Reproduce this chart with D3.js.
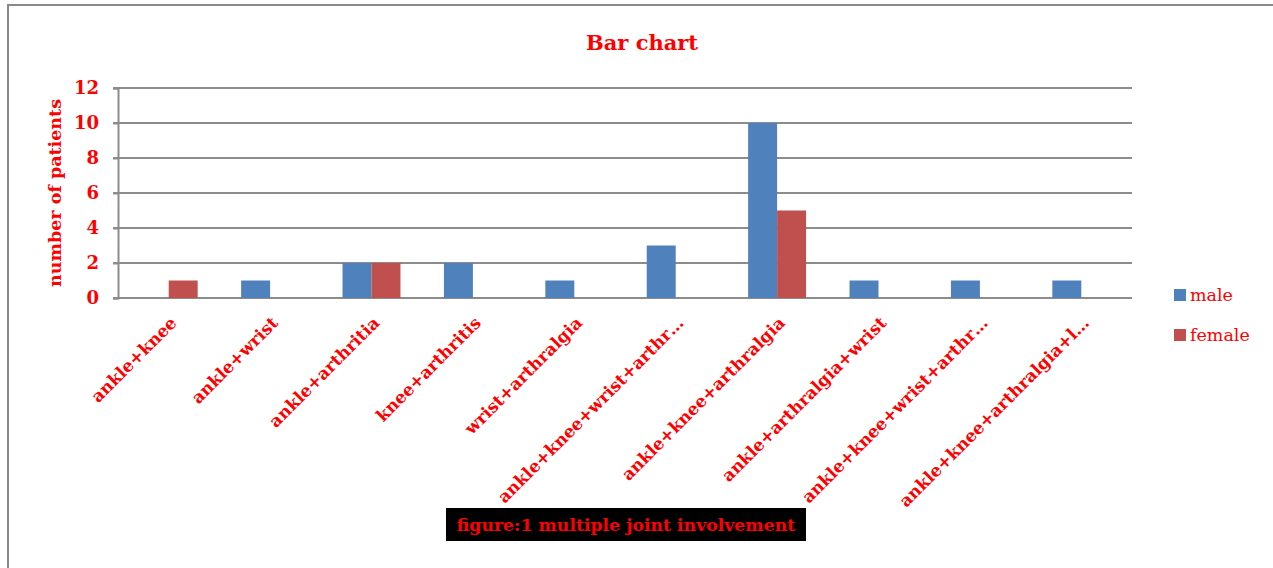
<!DOCTYPE html>
<html>
<head>
<meta charset="utf-8">
<script src="https://cdn.jsdelivr.net/npm/d3@7"></script>
<style>
  body { margin: 0; background: #fff; }
  text { font-family: "DejaVu Serif", serif; }
</style>
</head>
<body>
<div id="chart"></div>
<script>
var categories = ["ankle+knee", "ankle+wrist", "ankle+arthritia", "knee+arthritis", "wrist+arthralgia",
    "ankle+knee+wrist+arthr\u2026", "ankle+knee+arthralgia", "ankle+arthralgia+wrist",
    "ankle+knee+wrist+arthr\u2026", "ankle+knee+arthralgia+l\u2026"];
var male = [0, 1, 2, 2, 1, 3, 10, 1, 1, 1];
var female = [1, 0, 2, 0, 0, 0, 5, 0, 0, 0];
var seriesNames = ["male", "female"];
var yTicks = [0, 2, 4, 6, 8, 10, 12];

var width = 1273;
var height = 568;
var red = "#ff0000";
var colour = d3.scaleOrdinal().domain(seriesNames).range(["#4f81bd", "#c0504d"]);

var plot = { left: 118, right: 1132, top: 88, bottom: 298 };

var svg = d3.select("#chart").append("svg")
    .attr("width", width)
    .attr("height", height);

// outer frame of the chart area
svg.append("rect")
    .attr("x", 8).attr("y", 5)
    .attr("width", width + 10).attr("height", height + 10)
    .attr("fill", "none")
    .attr("stroke", "#8a8a8a")
    .attr("stroke-width", 2);

var x = d3.scaleBand()
    .domain(d3.range(categories.length))
    .range([plot.left, plot.right]);

var xs = d3.scaleBand()
    .domain(seriesNames)
    .range([0, x.bandwidth()])
    .paddingOuter(0.75);

var y = d3.scaleLinear()
    .domain([0, 12])
    .range([plot.bottom, plot.top]);

// gridlines
svg.append("g")
    .selectAll("line")
    .data(yTicks)
    .enter().append("line")
    .attr("x1", plot.left - 5)
    .attr("x2", plot.right)
    .attr("y1", function(d) { return y(d); })
    .attr("y2", function(d) { return y(d); })
    .attr("stroke", "#8c8c8c")
    .attr("stroke-width", 2);

// y axis
var yAxis = svg.append("g")
    .attr("transform", "translate(" + plot.left + ",0)")
    .call(d3.axisLeft(y).tickValues(yTicks).tickSize(5).tickPadding(14));
yAxis.select(".domain").attr("stroke", "#8c8c8c").attr("stroke-width", 2);
yAxis.selectAll(".tick line").attr("stroke", "#8c8c8c").attr("stroke-width", 2);
yAxis.selectAll(".tick text")
    .attr("fill", red)
    .style("font-size", "18px")
    .style("font-weight", "bold")
    .style("font-family", "DejaVu Serif");

// bars
var rows = categories.map(function(c, i) {
    return { i: i, values: [{ key: "male", value: male[i] }, { key: "female", value: female[i] }] };
});

var groups = svg.append("g").selectAll("g")
    .data(rows)
    .enter().append("g")
    .attr("transform", function(d) { return "translate(" + x(d.i) + ",0)"; });

groups.selectAll("rect")
    .data(function(d) { return d.values.filter(function(v) { return v.value > 0; }); })
    .enter().append("rect")
    .attr("x", function(d) { return xs(d.key); })
    .attr("width", xs.bandwidth())
    .attr("y", function(d) { return y(d.value); })
    .attr("height", function(d) { return y(0) - y(d.value); })
    .attr("fill", function(d) { return colour(d.key); });

// category labels
svg.append("g").selectAll("text")
    .data(categories)
    .enter().append("text")
    .attr("transform", function(d, i) {
        return "translate(" + (x(i) + x.bandwidth() / 2 + 9) + ",324) rotate(-45)";
    })
    .attr("text-anchor", "end")
    .attr("fill", red)
    .style("font-size", "17px")
    .style("font-weight", "bold")
    .text(function(d) { return d; });

// y axis title
svg.append("text")
    .attr("transform", "translate(61," + ((plot.top + plot.bottom) / 2) + ") rotate(-90)")
    .attr("text-anchor", "middle")
    .attr("fill", red)
    .style("font-size", "17.5px")
    .style("font-weight", "bold")
    .text("number of patients");

// title
svg.append("text")
    .attr("x", 642).attr("y", 50)
    .attr("text-anchor", "middle")
    .attr("fill", red)
    .style("font-size", "21px")
    .style("font-weight", "bold")
    .text("Bar chart");

// legend
var legend = svg.append("g").selectAll("g")
    .data(seriesNames)
    .enter().append("g")
    .attr("transform", function(d, i) { return "translate(1174," + (289 + i * 40) + ")"; });
legend.append("rect")
    .attr("width", 12).attr("height", 12)
    .attr("fill", function(d) { return colour(d); });
legend.append("text")
    .attr("x", 16).attr("y", 12)
    .attr("fill", red)
    .style("font-size", "17.5px")
    .text(function(d) { return d; });

// caption
svg.append("rect")
    .attr("x", 446).attr("y", 508)
    .attr("width", 360).attr("height", 33)
    .attr("fill", "#000");
svg.append("text")
    .attr("x", 626).attr("y", 531)
    .attr("text-anchor", "middle")
    .attr("fill", red)
    .style("font-size", "17.3px")
    .style("font-weight", "bold")
    .text("figure:1 multiple joint involvement");
</script>
</body>
</html>
